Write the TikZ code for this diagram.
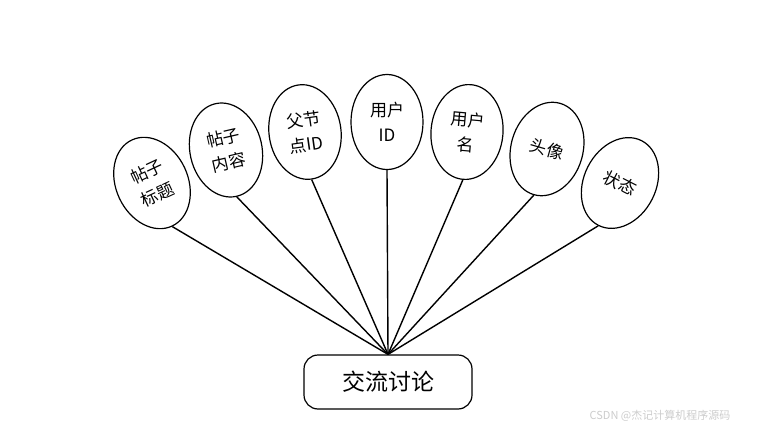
\documentclass[tikz,border=0pt]{standalone}
\usepackage{fontspec}
\usepackage{tikz}
\usetikzlibrary{shapes.geometric}
\newfontfamily\cjk{Noto Sans CJK SC}
\tikzstyle{attr} = [ellipse, draw=black, line width=1.2pt, minimum width=72pt, minimum height=95pt, inner sep=0pt, align=center, font=\cjk\fontsize{17}{25}\selectfont]
\tikzstyle{entity} = [rectangle, rounded corners=14pt, draw=black, line width=1.2pt, minimum width=168pt, minimum height=54pt, align=center, font=\cjk\fontsize{23}{27}\selectfont]
\tikzstyle{link} = [line width=1.4pt]

\begin{document}
\begin{tikzpicture}[x=1pt, y=-1pt]
  \useasboundingbox (0,0) rectangle (761,431);
  \node[attr, rotate=25] (a) at (152,183) {帖子\\标题};
  \node[attr, rotate=13] (b) at (226,150) {帖子\\内容};
  \node[attr, rotate=8] (c) at (305,132) {父节\\点ID};
  \node[attr] (d) at (387,122) {用户\\ID};
  \node[attr, rotate=-5] (e) at (467,132) {用户\\名};
  \node[attr, rotate=-16] (f) at (547,149) {头像};
  \node[attr, rotate=-27] (g) at (620,183) {状态};
  \node[entity] (m) at (388,382) {交流讨论};
  \node[font=\cjk\fontsize{11}{13}\selectfont, text=gray!40] (wm) at (660,416) {CSDN @杰记计算机程序源码};

  \draw[link] (a.south) -- (m.north);
  \draw[link] (b.south) -- (m.north);
  \draw[link] (c.south) -- (m.north);
  \draw[link] (d.south) -- (m.north);
  \draw[link] (e.south) -- (m.north);
  \draw[link] (f.south) -- (m.north);
  \draw[link] (g.south) -- (m.north);
\end{tikzpicture}
\end{document}
